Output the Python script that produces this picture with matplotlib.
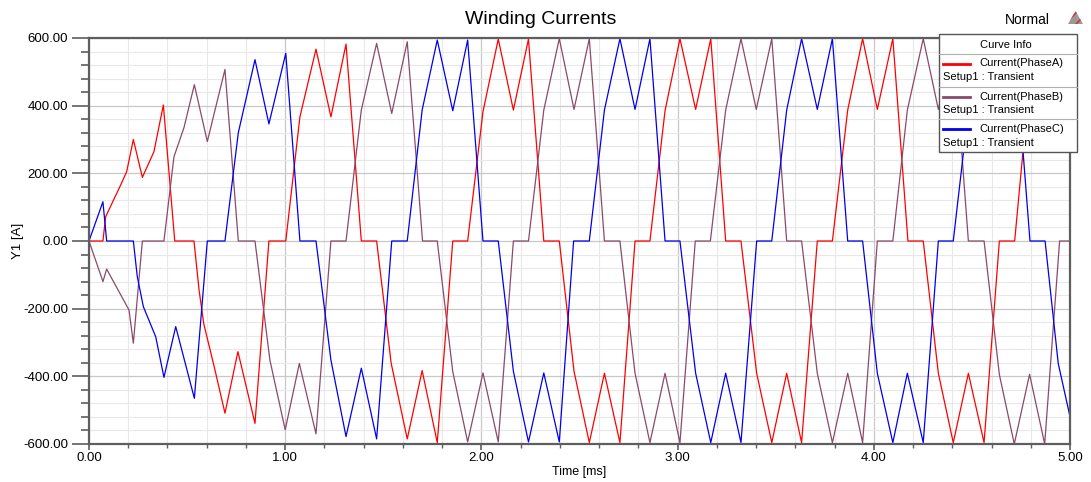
import matplotlib
matplotlib.use("Agg")
import matplotlib.pyplot as plt
from matplotlib.lines import Line2D
from matplotlib.patches import Rectangle, Polygon
from matplotlib.ticker import MultipleLocator, FormatStrFormatter

plt.rcParams["font.family"] = ["Liberation Sans", "DejaVu Sans"]

# Phase A winding current, breakpoints (ms, A)
t_a = [0.0, 0.071, 0.085, 0.161, 0.192, 0.226, 0.272, 0.331, 0.379, 0.437, 0.535,
       0.561, 0.585, 0.642, 0.693, 0.759, 0.846, 0.917, 1.003, 1.075, 1.157,
       1.233, 1.310, 1.388, 1.466, 1.540, 1.622, 1.698, 1.775, 1.854, 1.930,
       2.008, 2.086, 2.163, 2.240, 2.318, 2.397, 2.472, 2.550, 2.627, 2.706,
       2.783, 2.859, 2.936, 3.012, 3.092, 3.169, 3.245, 3.323, 3.403, 3.480,
       3.556, 3.632, 3.712, 3.789, 3.867, 3.943, 4.018, 4.097, 4.174, 4.252,
       4.329, 4.405, 4.482, 4.562, 4.640, 4.718, 4.780, 4.871, 4.947, 5.0]
i_a = [0, 0, 72, 165, 205, 300, 188, 264, 402, 0, 0,
       -145, -245, -381, -509, -327, -539, 0, 0, 367, 567,
       367, 582, 0, 0, -361, -585, -383, -596, 0, 0,
       382, 597, 387, 597, 0, 0, -385, -596, -391, -596,
       0, 0, 385, 598, 389, 598, 0, 0, -391, -596,
       -391, -596, 0, 0, 387, 598, 389, 598, 0, 0,
       -391, -596, -391, -596, 0, 0, 387, 598, 389, 540]

# Phase B winding current
t_b = [0.0, 0.071, 0.090, 0.204, 0.226, 0.272, 0.382, 0.433, 0.484, 0.537, 0.603,
       0.693, 0.761, 0.846, 0.922, 1.000, 1.072, 1.157, 1.233, 1.310, 1.388,
       1.466, 1.543, 1.622, 1.700, 1.775, 1.854, 1.930, 2.008, 2.086, 2.163,
       2.240, 2.318, 2.397, 2.472, 2.550, 2.627, 2.706, 2.783, 2.859, 2.936,
       3.012, 3.090, 3.167, 3.245, 3.323, 3.401, 3.480, 3.556, 3.632, 3.712,
       3.789, 3.867, 3.943, 4.018, 4.097, 4.171, 4.252, 4.329, 4.405, 4.482,
       4.562, 4.640, 4.716, 4.794, 4.871, 4.947, 5.0]
i_b = [0, -120, -83, -204, -302, 0, 0, 249, 335, 462, 294,
       507, 0, 0, -352, -558, -362, -570, 0, 0, 387,
       584, 377, 589, 0, 0, -386, -594, -390, -594, 0,
       0, 387, 598, 389, 598, 0, 0, -391, -596, -391,
       -596, 0, 0, 387, 598, 389, 598, 0, 0, -391,
       -596, -391, -596, 0, 0, 387, 598, 389, 598, 0,
       0, -395, -600, -394, -600, 0, 0]

# Phase C winding current
t_c = [0.0, 0.071, 0.090, 0.226, 0.246, 0.277, 0.340, 0.382, 0.442, 0.537, 0.603,
       0.693, 0.761, 0.846, 0.917, 1.003, 1.075, 1.157, 1.233, 1.310, 1.388,
       1.466, 1.543, 1.622, 1.698, 1.775, 1.854, 1.930, 2.008, 2.086, 2.163,
       2.240, 2.318, 2.397, 2.470, 2.550, 2.627, 2.706, 2.783, 2.859, 2.936,
       3.012, 3.092, 3.169, 3.245, 3.323, 3.403, 3.480, 3.556, 3.632, 3.712,
       3.789, 3.867, 3.943, 4.018, 4.097, 4.171, 4.252, 4.329, 4.405, 4.482,
       4.562, 4.640, 4.716, 4.796, 4.873, 4.940, 5.0]
i_c = [0, 116, 0, 0, -105, -194, -283, -403, -253, -465, 0,
       0, 320, 536, 346, 555, 0, 0, -352, -578, -376,
       -585, 0, 0, 387, 594, 385, 594, 0, 0, -385,
       -594, -390, -594, 0, 0, 387, 598, 389, 598, 0,
       0, -391, -596, -391, -596, 0, 0, 387, 598, 389,
       598, 0, 0, -391, -596, -391, -596, 0, 0, 387,
       598, 389, 598, 0, 0, -362, -519]

names = ["Current(PhaseA)", "Current(PhaseB)", "Current(PhaseC)"]
colors = ["#ff0000", "#8a4a6a", "#0000ee"]

W, H = 1091, 482
fig = plt.figure(figsize=(W / 100, H / 100), dpi=100)
ax = fig.add_axes([89 / W, 1 - 444 / H, (1070 - 89) / W, (444 - 38) / H])


def fx(x):
    return x / W


def fy(y):
    return 1 - y / H


for t, i, c in zip([t_a, t_b, t_c], [i_a, i_b, i_c], colors):
    ax.plot(t, i, color=c, lw=0.9)

ax.set_xlim(0, 5)
ax.set_ylim(-600, 600)
ax.xaxis.set_major_locator(MultipleLocator(1))
ax.xaxis.set_minor_locator(MultipleLocator(0.2))
ax.yaxis.set_major_locator(MultipleLocator(200))
ax.yaxis.set_minor_locator(MultipleLocator(40))
ax.xaxis.set_major_formatter(FormatStrFormatter("%.2f"))
ax.yaxis.set_major_formatter(FormatStrFormatter("%.2f"))

ax.grid(which="minor", color="#e8e8e8", lw=0.8)
ax.grid(which="major", color="#c8c8c8", lw=0.9)
ax.set_axisbelow(True)

for s in ax.spines.values():
    s.set_color("#5e5e5e")
    s.set_linewidth(1.6)
ax.tick_params(axis="y", which="major", length=12, width=1.2, color="#5e5e5e",
               labelsize=9.5, pad=3)
ax.tick_params(axis="y", which="minor", length=6, width=1.2, color="#5e5e5e")
ax.tick_params(axis="x", which="major", length=4, width=1.2, color="#5e5e5e",
               labelsize=9.5, pad=2)
ax.tick_params(axis="x", which="minor", length=3, width=1.0, color="#5e5e5e")

ax.set_xlabel("Time [ms]", fontsize=9, labelpad=1)
ax.set_ylabel("Y1 [A]", fontsize=9.5)
ax.yaxis.set_label_coords((24 - 89) / 981, 0.5)

fig.text(fx(541), fy(20), "Winding Currents", fontsize=14, ha="center", va="center")
fig.text(fx(1050), fy(20), "Normal", fontsize=10, ha="right", va="center")
plt.rcParams["hatch.linewidth"] = 1.2
tri = Polygon([(fx(1068), fy(24)), (fx(1083), fy(24)), (fx(1075.5), fy(11))],
              closed=True, facecolor="#9a9a9a", edgecolor="#e03030", lw=0,
              hatch="///", transform=fig.transFigure)
fig.add_artist(tri)

# curve info box
box = Rectangle((fx(939), fy(152)), (1077 - 939) / W, (152 - 34) / H,
                facecolor="white", edgecolor="#555555", lw=1.0,
                transform=fig.transFigure, zorder=5)
fig.add_artist(box)
fig.text(fx(1006), fy(44.5), "Curve Info", fontsize=8, ha="center", va="center", zorder=6)
for ys in [54, 87, 119]:
    fig.add_artist(Line2D([fx(939), fx(1077)], [fy(ys), fy(ys)], color="#b0b0b0",
                          lw=0.8, transform=fig.transFigure, zorder=6))
for k, (nm, c) in enumerate(zip(names, colors)):
    y0 = 63.5 + k * 33
    fig.add_artist(Line2D([fx(943), fx(970)], [fy(y0), fy(y0)], color=c, lw=2,
                          transform=fig.transFigure, zorder=6))
    fig.text(fx(979), fy(y0), nm, fontsize=8, ha="left", va="center", zorder=6)
    fig.text(fx(943), fy(y0 + 13.5), "Setup1 : Transient", fontsize=8,
             ha="left", va="center", zorder=6)

fig.savefig("out.png", dpi=100)
